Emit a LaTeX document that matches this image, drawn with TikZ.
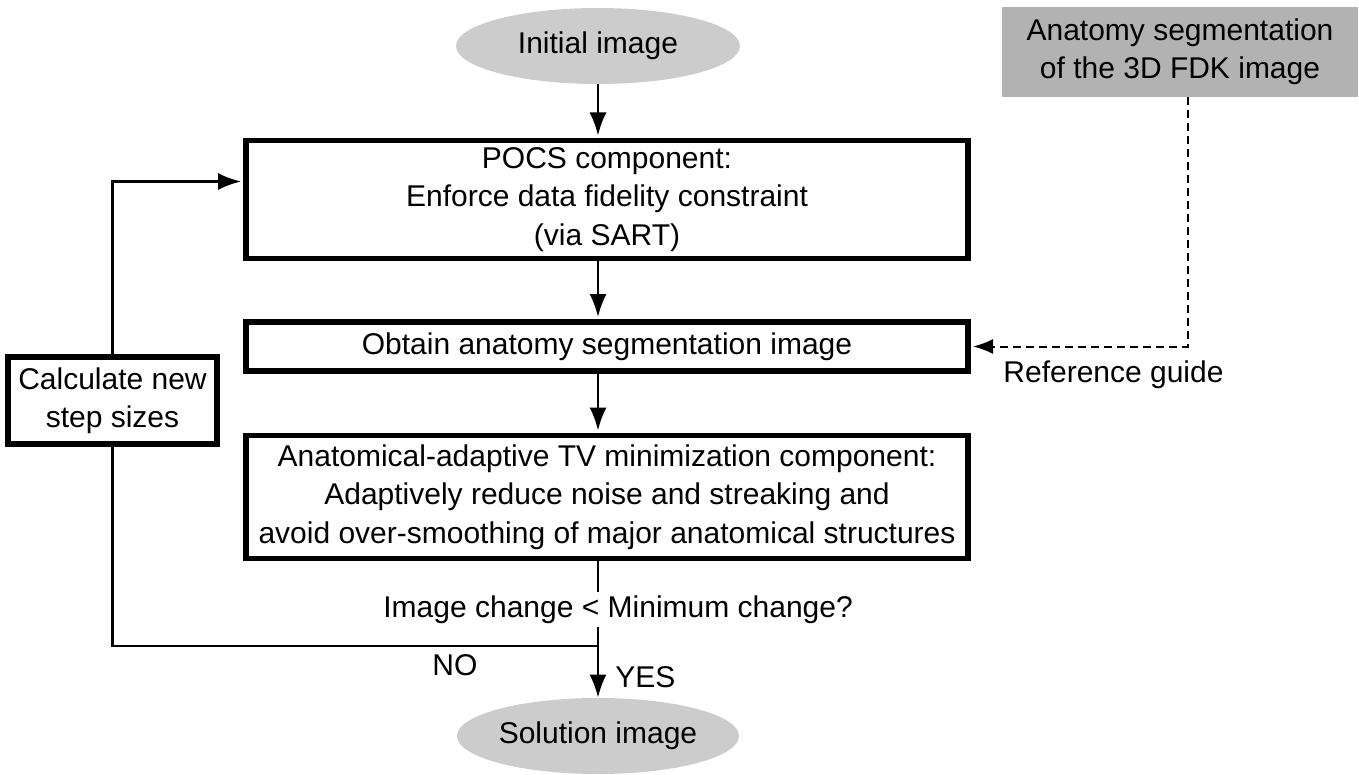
\documentclass[tikz,border=0pt]{standalone}
\usepackage{fontspec}
\setmainfont{Liberation Sans}
\usetikzlibrary{arrows.meta,shapes.geometric}
\definecolor{ovalgray}{RGB}{204,204,204}
\definecolor{seggray}{RGB}{178,178,178}
\begin{document}
\begin{tikzpicture}[x=0.5pt,y=-0.5pt,
  font=\fontsize{15}{19.2}\selectfont,
  box/.style={draw, line width=2.6pt, rectangle, align=center, inner sep=0pt},
  oval/.style={ellipse, fill=ovalgray, inner sep=0pt},
  link/.style={line width=1.1pt},
  conn/.style={line width=1.1pt, -{Latex[length=11.5pt,width=8.5pt]}, shorten >=1.2pt},
  lbl/.style={anchor=base west, inner sep=0pt}]
\useasboundingbox (0,0) rectangle (1359,775);
\node[oval, minimum width=142pt, minimum height=38pt] (init) at (598,46) {Initial image};
\node[box, minimum width=361pt, minimum height=59pt] (pocs) at (607,199.5)
  {POCS component:\\Enforce data fidelity constraint\\(via SART)};
\node[box, minimum width=361pt, minimum height=24.5pt] (obtain) at (607,346.5)
  {Obtain anatomy segmentation image};
\node[box, minimum width=361pt, minimum height=61.5pt] (anat) at (607,497)
  {Anatomical-adaptive TV minimization component:\\Adaptively reduce noise and streaking and\\avoid over-smoothing of major anatomical structures};
\node[box, minimum width=104.5pt, minimum height=43.5pt] (calc) at (112.5,400.5)
  {Calculate new\\step sizes};
\node[fill=seggray, minimum width=178pt, minimum height=45pt, align=center, inner sep=0pt] (seg) at (1180,52)
  {Anatomy segmentation\\of the 3D FDK image};
\node[oval, minimum width=141pt, minimum height=38pt] (sol) at (598,736) {Solution image};
\coordinate (j) at (598,646);
\draw[conn] (init) -- (init |- pocs.north);
\draw[conn] (pocs.south -| init) -- (obtain.north -| init);
\draw[conn] (obtain.south -| init) -- (anat.north -| init);
\draw[conn, shorten >=0pt] (anat.south -| init) -- (sol);
\draw[link] (j) -| (calc.south);
\draw[conn] (calc.north) |- ([yshift=9pt]pocs.west);
\draw[line width=1pt, -{Latex[length=10pt,width=7.5pt]}, shorten >=1.2pt, dash pattern=on 4pt off 2.5pt] ([xshift=4pt]seg.south) |- (obtain.east);
\node[fill=white, inner xsep=1pt, inner ysep=1.7pt, anchor=base west] (cond) at (381,617) {Image change < Minimum change?};
\node[lbl] (no) at (432,675) {NO};
\node[lbl] (yes) at (615,687) {YES};
\node[lbl] (ref) at (1003,382) {Reference guide};
\end{tikzpicture}
\end{document}
